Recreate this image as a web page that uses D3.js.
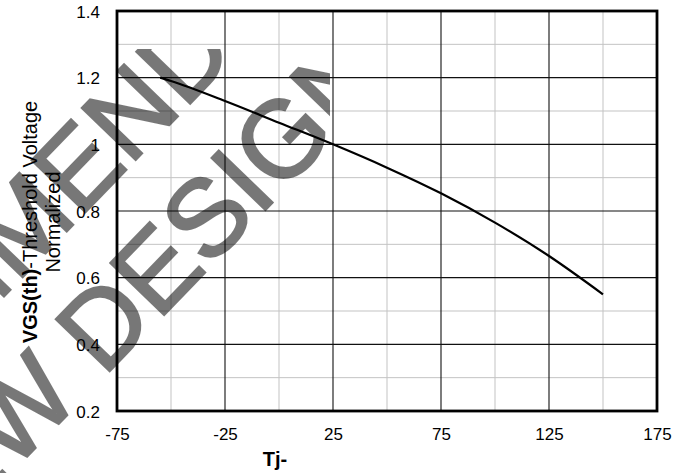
<!DOCTYPE html>
<html>
<head>
<meta charset="utf-8">
<script src="https://cdn.jsdelivr.net/npm/d3@7"></script>
<style>
  html, body { margin: 0; padding: 0; background: #fff; }
  svg { display: block; font-family: "Liberation Sans", Arial, sans-serif; }
</style>
</head>
<body>
<svg id="chart" width="694" height="473"></svg>
<script>
// Junction temperature (°C) and normalized gate threshold voltage
const tempC = [-55, -50, -25, 0, 25, 50, 75, 100, 125, 150];
const vgsNorm = [1.20, 1.19, 1.13, 1.065, 1.0, 0.93, 0.853, 0.765, 0.665, 0.55];

const xMajorTicks = [-75, -25, 25, 75, 125, 175];
const xMinorTicks = [-50, 0, 50, 100, 150];
const xTickLabels = ["-75", "-25", "25", "75", "125", "175"];
const yMajorTicks = [0.2, 0.4, 0.6, 0.8, 1.0, 1.2, 1.4];
const yMinorTicks = [0.3, 0.5, 0.7, 0.9, 1.1, 1.3];
const yTickLabels = ["0.2", "0.4", "0.6", "0.8", "1", "1.2", "1.4"];

const watermarkLines = ["NOT RECOMMENDED", "FOR NEW DESIGN"];

const svg = d3.select("#chart");
const plotL = 117, plotR = 657, plotT = 11, plotB = 411;

const x = d3.scaleLinear().domain([-75, 175]).range([plotL, plotR]);
const y = d3.scaleLinear().domain([0.2, 1.4]).range([plotB, plotT]);

// minor grid
const grid = svg.append("g");
grid.selectAll("line.vminor").data(xMinorTicks).join("line")
  .attr("class", "vminor")
  .attr("x1", d => x(d)).attr("x2", d => x(d))
  .attr("y1", plotT).attr("y2", plotB)
  .attr("stroke", "#c3c3c3").attr("stroke-width", 1);
grid.selectAll("line.hminor").data(yMinorTicks).join("line")
  .attr("class", "hminor")
  .attr("x1", plotL).attr("x2", plotR)
  .attr("y1", d => y(d)).attr("y2", d => y(d))
  .attr("stroke", "#c3c3c3").attr("stroke-width", 1);
// major grid
grid.selectAll("line.vmajor").data(xMajorTicks).join("line")
  .attr("class", "vmajor")
  .attr("x1", d => x(d)).attr("x2", d => x(d))
  .attr("y1", plotT).attr("y2", plotB)
  .attr("stroke", "#111").attr("stroke-width", 1.1);
grid.selectAll("line.hmajor").data(yMajorTicks).join("line")
  .attr("class", "hmajor")
  .attr("x1", plotL).attr("x2", plotR)
  .attr("y1", d => y(d)).attr("y2", d => y(d))
  .attr("stroke", "#111").attr("stroke-width", 1.1);

// curve
const line = d3.line()
  .x((d, i) => x(tempC[i]))
  .y(d => y(d))
  .curve(d3.curveMonotoneX);
svg.append("path")
  .attr("d", line(vgsNorm))
  .attr("fill", "none")
  .attr("stroke", "#000")
  .attr("stroke-width", 2.2);

// plot frame
svg.append("rect")
  .attr("x", plotL).attr("y", plotT)
  .attr("width", plotR - plotL).attr("height", plotB - plotT)
  .attr("fill", "none").attr("stroke", "#000").attr("stroke-width", 2.8);

// axes (labels only, the frame draws the lines)
const xAxis = d3.axisBottom(x).tickValues(xMajorTicks).tickSize(0).tickPadding(0)
  .tickFormat((d, i) => xTickLabels[i]);
const gx = svg.append("g").attr("transform", `translate(0,${plotB})`).call(xAxis);
gx.select(".domain").remove();
gx.selectAll("text")
  .attr("y", 29).attr("dy", 0)
  .attr("font-size", 17).attr("fill", "#000")
  .attr("font-family", "Liberation Sans, Arial, sans-serif");

const yAxis = d3.axisLeft(y).tickValues(yMajorTicks).tickSize(0)
  .tickFormat((d, i) => yTickLabels[i]);
const gy = svg.append("g").attr("transform", `translate(${plotL},0)`).call(yAxis);
gy.select(".domain").remove();
gy.selectAll("text")
  .attr("x", -17).attr("dy", 6)
  .attr("font-size", 17).attr("fill", "#000")
  .attr("font-family", "Liberation Sans, Arial, sans-serif");

// axis titles
svg.append("text")
  .attr("x", 275).attr("y", 466)
  .attr("text-anchor", "middle")
  .attr("font-size", 20).attr("font-weight", "bold")
  .text("Tj-");

const yTitle = svg.append("text")
  .attr("transform", "translate(37,222) rotate(-90)")
  .attr("text-anchor", "middle")
  .attr("font-size", 20);
yTitle.append("tspan").attr("font-weight", "bold").text("VGS(th)");
yTitle.append("tspan").text("-Threshold Voltage");
svg.append("text")
  .attr("transform", "translate(60,222) rotate(-90)")
  .attr("text-anchor", "middle")
  .attr("font-size", 20)
  .text("Normalized");

// watermark, two diagonal lines clipped to the left part of the page
const wmOffset = [-50, -25];
const wmLineY = [-128, 0];
svg.append("clipPath").attr("id", "wmclip")
  .append("rect").attr("x", 0).attr("y", 49).attr("width", 330).attr("height", 424);
const wm = svg.append("g").attr("clip-path", "url(#wmclip)")
  .append("g").attr("opacity", 0.53)
  .append("text")
  .attr("transform", "translate(77,405) rotate(-46)")
  .attr("text-anchor", "middle")
  .attr("font-size", 108.5)
  .attr("fill", "#000")
  .attr("stroke", "#000")
  .attr("stroke-width", 2.4)
  .attr("stroke-linejoin", "miter");
wm.selectAll("tspan").data(watermarkLines).join("tspan")
  .attr("x", (d, i) => wmOffset[i])
  .attr("y", (d, i) => wmLineY[i])
  .text(d => d);
</script>
</body>
</html>
